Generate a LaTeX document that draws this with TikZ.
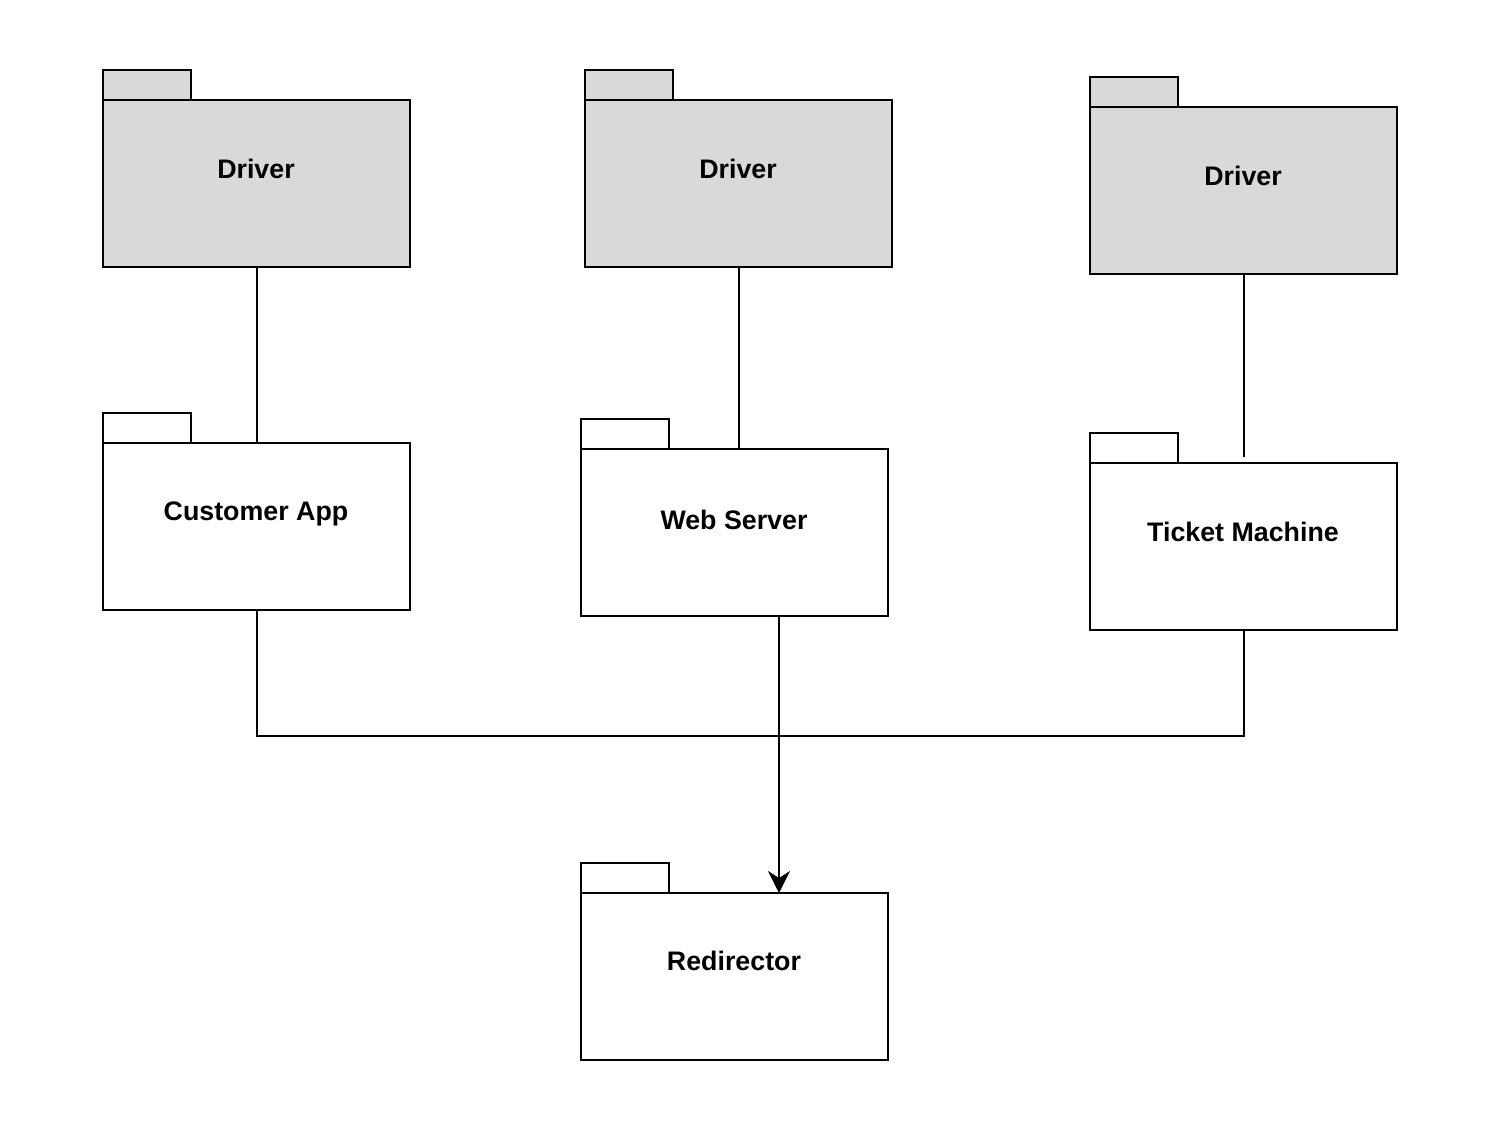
\documentclass[tikz,border=0pt]{standalone}
\usepackage{fontspec}
\setmainfont{Liberation Sans}
\usetikzlibrary{arrows.meta}
\definecolor{pkggray}{HTML}{D9D9D9}
\begin{document}
\begin{tikzpicture}[x=1pt,y=-1pt,line width=2pt,
  pkg/.style={draw,rectangle,minimum width=307pt,minimum height=167pt,inner sep=0pt,outer sep=0pt},
  drv/.style={pkg,fill=pkggray},
  lbl/.style={font=\fontsize{26.8}{30}\selectfont\bfseries,inner sep=0pt},
  conn/.style={line width=2pt},
  arr/.style={conn,-{Stealth[length=22pt,width=22pt,inset=7pt]}}]
\useasboundingbox (0,0) rectangle (1504,1140);
% bodies
\node[drv] (d1) at (256.5,183.5) {};
\node[drv] (d2) at (738.5,183.5) {};
\node[drv] (d3) at (1243.5,190.5) {};
\node[pkg] (ca) at (256.5,526.5) {};
\node[pkg] (ws) at (734.5,532.5) {};
\node[pkg] (tm) at (1243.5,546.5) {};
\node[pkg] (rd) at (734.5,976.5) {};
% tabs
\draw[fill=pkggray] (d1.north west) rectangle ++(88,-30);
\draw[fill=pkggray] (d2.north west) rectangle ++(88,-30);
\draw[fill=pkggray] (d3.north west) rectangle ++(88,-30);
\draw (ca.north west) rectangle ++(88,-30);
\draw (ws.north west) rectangle ++(88,-30);
\draw (tm.north west) rectangle ++(88,-30);
\draw (rd.north west) rectangle ++(88,-30);
% labels
\node[lbl] (l1) at (256,169) {Driver};
\node[lbl] (l2) at (738,169) {Driver};
\node[lbl] (l3) at (1243,176) {Driver};
\node[lbl] (l4) at (256,514) {Customer App};
\node[lbl] (l5) at (734,520) {Web Server};
\node[lbl] (l6) at (1243,532) {Ticket Machine};
\node[lbl] (l7) at (734,961) {Redirector};
% connectors
\coordinate (j) at (779,736);
\draw[conn] (d1.south) -- (ca.north);
\draw[conn] (d2.south) -- (d2.south |- ws.north);
\draw[conn,shorten >=6pt] (d3.south) -- (tm.north);
\draw[conn] (ca.south) |- (j);
\draw[conn] (tm.south) |- (j);
\draw[arr] (j |- ws.south) -- (j |- rd.north);
\end{tikzpicture}
\end{document}
